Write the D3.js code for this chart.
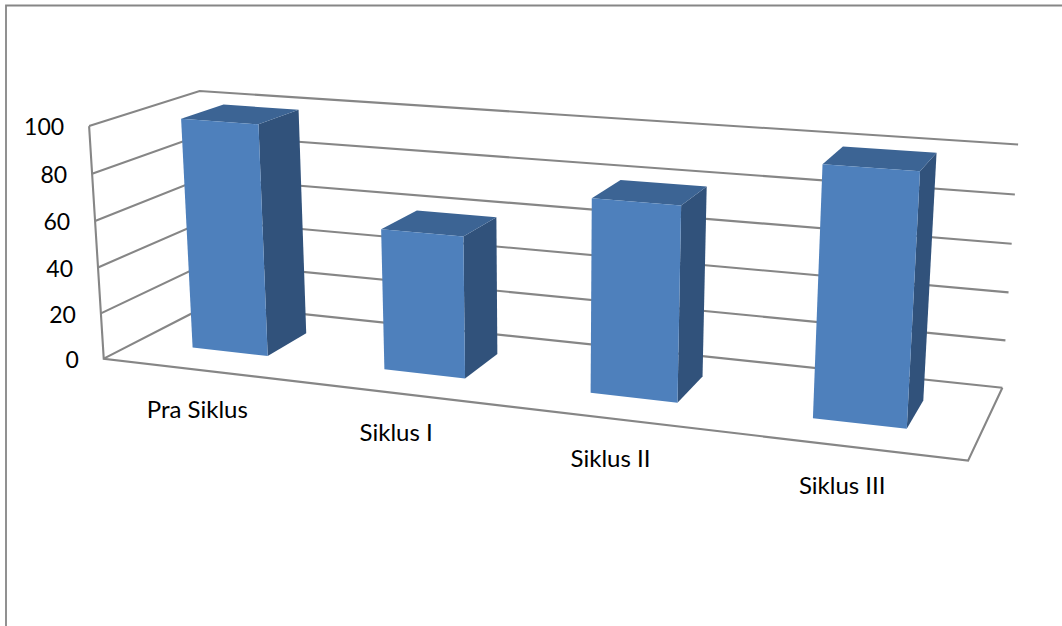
<!DOCTYPE html>
<html>
<head>
<meta charset="utf-8">
<script src="https://cdn.jsdelivr.net/npm/d3@7"></script>
<style>
  html, body { margin: 0; padding: 0; background: #fff; }
  svg { display: block; }
  text { font-family: Lato, "Open Sans", sans-serif; fill: #000; }
</style>
</head>
<body>
<svg id="chart" width="1062" height="626"></svg>
<script>
const categories = ['Pra Siklus', 'Siklus I', 'Siklus II', 'Siklus III'];
const values = [100, 60, 80, 100];
const ticks = [0, 20, 40, 60, 80, 100];

// perspective camera: unit box (u, v, w) to pixels
const camX = [103.748, 726.518, 126.304, -17.489];
const camY = [358.687, 36.372, -25.087, -236.637];
const camD = [1, -0.14236, 0.09667, -0.03192];

const project = (u, v, w) => {
  const dot = (c) => c[0] + c[1] * u + c[2] * v + c[3] * w;
  return [dot(camX) / dot(camD), dot(camY) / dot(camD)];
};

const x = d3.scaleBand().domain(categories).range([0, 1])
  .paddingInner(0.6).paddingOuter(0.3);
const y = d3.scaleLinear().domain([0, 100]).range([0, 1]);
const depth = [0.3, 0.7];

const svg = d3.select('#chart');
const line = d3.line();
const poly = (pts) => line(pts.map((p) => project(...p))) + 'Z';
const open = (pts) => line(pts.map((p) => project(...p)));

// outer frame, only top and left are visible
svg.append('path')
  .attr('d', 'M6,626V5.5H1062')
  .attr('fill', 'none')
  .attr('stroke', '#868686')
  .attr('stroke-width', 1.8);

const grid = svg.append('g')
  .attr('fill', 'none')
  .attr('stroke', '#868686')
  .attr('stroke-width', 2.1);

grid.selectAll('path.gridline')
  .data(ticks)
  .join('path')
  .attr('class', 'gridline')
  .attr('d', (t) => open([[0, 0, y(t)], [0, 1, y(t)], [1, 1, y(t)]]));

// front edge of side wall and the open floor edges
grid.append('path').attr('d', open([[0, 0, y(100)], [0, 0, y(0)], [1, 0, y(0)], [1, 1, y(0)]]));

const bars = svg.selectAll('g.bar')
  .data(categories.map((c, i) => ({ c, v: values[i] })))
  .join('g')
  .attr('class', 'bar');

const faces = [
  {
    fill: '#31527b',
    pts: (u0, u1, h) => [[u1, depth[0], 0], [u1, depth[1], 0], [u1, depth[1], h], [u1, depth[0], h]],
  },
  {
    fill: '#3c6494',
    pts: (u0, u1, h) => [[u0, depth[0], h], [u1, depth[0], h], [u1, depth[1], h], [u0, depth[1], h]],
  },
  {
    fill: '#4e80bc',
    pts: (u0, u1, h) => [[u0, depth[0], 0], [u1, depth[0], 0], [u1, depth[0], h], [u0, depth[0], h]],
  },
];

bars.selectAll('path')
  .data((d) => faces.map((f) => ({ f, d })))
  .join('path')
  .attr('fill', ({ f }) => f.fill)
  .attr('d', ({ f, d }) => poly(f.pts(x(d.c), x(d.c) + x.bandwidth(), y(d.v))));

svg.selectAll('text.tick')
  .data(ticks)
  .join('text')
  .attr('class', 'tick')
  .attr('x', (t) => project(0, 0, y(t))[0] - 25)
  .attr('y', (t) => project(0, 0, y(t))[1] + 1)
  .attr('dy', '0.36em')
  .attr('text-anchor', 'end')
  .attr('font-size', 23)
  .text((t) => t);

svg.selectAll('text.cat')
  .data(categories)
  .join('text')
  .attr('class', 'cat')
  .attr('x', (c) => project(x(c) + x.bandwidth() / 2, 0.03, 0)[0] - 4)
  .attr('y', (c) => project(x(c) + x.bandwidth() / 2, 0.03, 0)[1] + 41.5)
  .attr('dy', '0.36em')
  .attr('text-anchor', 'middle')
  .attr('font-size', 24)
  .text((c) => c);
</script>
</body>
</html>
